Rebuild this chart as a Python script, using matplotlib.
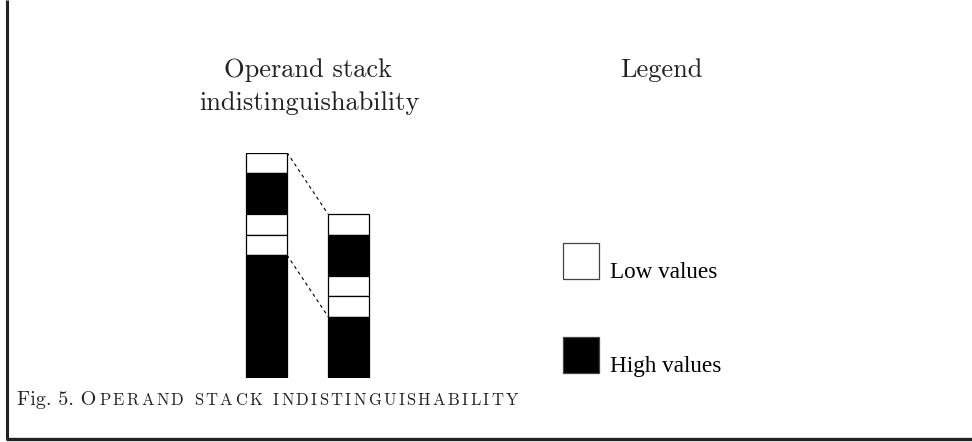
import numpy as np
import matplotlib
matplotlib.use('Agg')
import matplotlib.pyplot as plt
from matplotlib.patches import Rectangle
from matplotlib.font_manager import FontProperties

# %% data: stack segments listed from top to bottom
seg_kind = ['low', 'high', 'low', 'low', 'high']
left_heights = [1, 2, 1, 1, 6]
right_heights = [1, 2, 1, 1, 3]
legend_labels = ['Low values', 'High values']
colors = {'low': 'white', 'high': 'black'}

title = ['Operand stack', 'indistinguishability']
legend_title = 'Legend'
caption_head = 'Fig. 5. O'
caption_tail = 'PERAND STACK INDISTINGUISHABILITY'

W, H = 972, 442
fig = plt.figure(figsize=(W / 100, H / 100), dpi=100)

# background axes in pixel units for frame, texts and legend
bg = fig.add_axes([0, 0, 1, 1])
bg.set_xlim(0, W)
bg.set_ylim(H, 0)
bg.axis('off')

# frame (left and bottom rules)
bg.plot([7, 7], [0, 438.5], color='#222222', lw=2.2, solid_capstyle='butt')
bg.plot([5.5, W], [438.5, 438.5], color='#222222', lw=2.4, solid_capstyle='butt')

# %% stacks
ax = fig.add_axes([225.5 / W, (H - 378) / H, 164 / W, 225.5 / H])
ax.set_xlim(-0.5, 1.5)
ax.set_ylim(0, 11)
ax.axis('off')
bar_w = 0.5
for i, heights in enumerate([left_heights, right_heights]):
    # cumulative from bottom
    tops = np.cumsum(heights[::-1])[::-1]
    bottoms = tops - np.array(heights)
    for kind, h, b in zip(seg_kind, heights, bottoms):
        ax.bar(i, h, bottom=b, width=bar_w, color=colors[kind],
               edgecolor='black', linewidth=0.9)

# dashed connectors between the two stacks
l_tot, r_tot = sum(left_heights), sum(right_heights)
ax.plot([bar_w / 2, 1 - bar_w / 2], [l_tot, r_tot], ls=(0, (3, 3)), color='black', lw=0.8)
ax.plot([bar_w / 2, 1 - bar_w / 2], [left_heights[-1], right_heights[-1]],
        ls=(0, (3, 3)), color='black', lw=0.8)

# %% titles
cm = 'cmr10'
bg.text(308, 77, title[0], family=cm, size=19, ha='center', va='baseline', color='#222222')
bg.text(309, 110, title[1], family=cm, size=19, ha='center', va='baseline', color='#222222')
bg.text(661, 77, legend_title, family=cm, size=19, ha='center', va='baseline', color='#222222')

# %% legend
for k, (kind, lab) in enumerate(zip(['low', 'high'], legend_labels)):
    y0 = 243 + k * 94
    bg.add_patch(Rectangle((563, y0), 36, 36, facecolor=colors[kind],
                           edgecolor='#444444', lw=0.9))
    bg.text(610, y0 + 35, lab, family='Liberation Serif', size=16.7, va='baseline')

# %% caption with fake small caps: letters placed by their advance widths
renderer = fig.canvas.get_renderer()
t1 = bg.text(17, 405, caption_head, family=cm, size=14.5, va='baseline', color='#222222')
x0 = t1.get_window_extent(renderer).x1 + 3
x_end = 518
sc_size = 12
prop = FontProperties(family=cm, size=sc_size)
space_w = 6
widths = [renderer.get_text_width_height_descent(ch, prop, ismath=False)[0]
          if ch != ' ' else space_w for ch in caption_tail]
track = (x_end - x0 - sum(widths)) / (len(caption_tail) - 1)
x_next = x0
for ch, w in zip(caption_tail, widths):
    if ch != ' ':
        fig.text(x_next / W, (H - 405) / H, ch, family=cm, size=sc_size,
                 va='baseline', color='#222222')
    x_next += w + track

fig.savefig('out.png', dpi=100)
